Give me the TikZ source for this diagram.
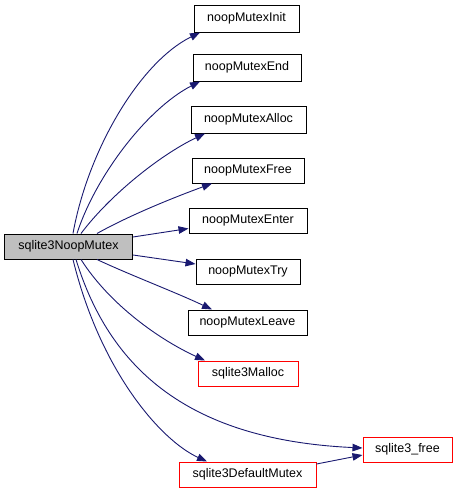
\documentclass[tikz,border=0pt]{standalone}
\usepackage{fontspec}
\setmainfont{Liberation Sans}
\usetikzlibrary{arrows.meta}
\definecolor{edgeblue}{HTML}{191970}
\definecolor{maingray}{HTML}{BFBFBF}
\tikzset{
  fn/.style={draw=black, line width=1pt, fill=white, inner sep=0pt, align=center,
    font=\fontsize{12.5}{14}\selectfont},
  redfn/.style={fn, draw=red},
  mainfn/.style={fn, fill=maingray},
  edge/.style={draw=edgeblue, line width=0.9pt,
    -{Triangle[length=10pt,width=7.5pt]}, fill=none},
}
\begin{document}
\begin{tikzpicture}[x=1pt,y=-1pt]
\useasboundingbox (0,0) rectangle (457,493);
\node[mainfn, minimum width=128pt, minimum height=25pt] (main) at (68.5,246.5) {sqlite3NoopMutex};
\node[fn, minimum width=105pt, minimum height=27pt] (init) at (246.5,18.5) {noopMutexInit};
\node[fn, minimum width=108pt, minimum height=27pt] (end) at (247,67.5) {noopMutexEnd};
\node[fn, minimum width=115pt, minimum height=27pt] (alloc) at (248.5,119.5) {noopMutexAlloc};
\node[fn, minimum width=112pt, minimum height=25pt] (free) at (248,170.5) {noopMutexFree};
\node[fn, minimum width=118pt, minimum height=25pt] (enter) at (248,220.5) {noopMutexEnter};
\node[fn, minimum width=104pt, minimum height=25pt] (try) at (248,271.5) {noopMutexTry};
\node[fn, minimum width=119pt, minimum height=25pt] (leave) at (247.5,322.5) {noopMutexLeave};
\node[redfn, minimum width=100pt, minimum height=25pt] (malloc) at (248,373.5) {sqlite3Malloc};
\node[redfn, minimum width=89pt, minimum height=25pt] (sfree) at (407.5,449.5) {sqlite3\_free};
\node[redfn, minimum width=137pt, minimum height=25pt] (defmutex) at (247.5,474.5) {sqlite3DefaultMutex};

\draw[edge] ([xshift=4.5pt]main.north) .. controls (88,150) and (140,62) .. ([xshift=-46.5pt]init.south);
\draw[edge] ([xshift=8.5pt]main.north) .. controls (96,175) and (148,108) .. ([xshift=-47pt]end.south);
\draw[edge] ([xshift=12.5pt]main.north) .. controls (110,195) and (160,155) .. ([xshift=-43.5pt]alloc.south);
\draw[edge] ([xshift=28.5pt]main.north) .. controls (130,215) and (175,197) .. ([xshift=-36pt]free.south);
\draw[edge] ([yshift=9.5pt]main.east) -- ([yshift=-8pt]enter.west);
\draw[edge] ([yshift=-8.5pt]main.east) -- ([yshift=7.5pt]try.west);
\draw[edge] ([xshift=28.5pt]main.south) .. controls (130,275) and (175,292) .. ([xshift=-35.5pt]leave.north);
\draw[edge] ([xshift=12.5pt]main.south) .. controls (110,305) and (160,340) .. ([xshift=-43pt]malloc.north);
\draw[edge] ([xshift=7.5pt]main.south) .. controls (110,370) and (190,440) .. ([yshift=1.5pt]sfree.west);
\draw[edge] ([xshift=4.5pt]main.south) .. controls (100,370) and (160,440) .. ([xshift=-40.5pt]defmutex.north);
\draw[edge] ([yshift=10.5pt]defmutex.east) -- ([yshift=-5.5pt]sfree.west);
\end{tikzpicture}
\end{document}
